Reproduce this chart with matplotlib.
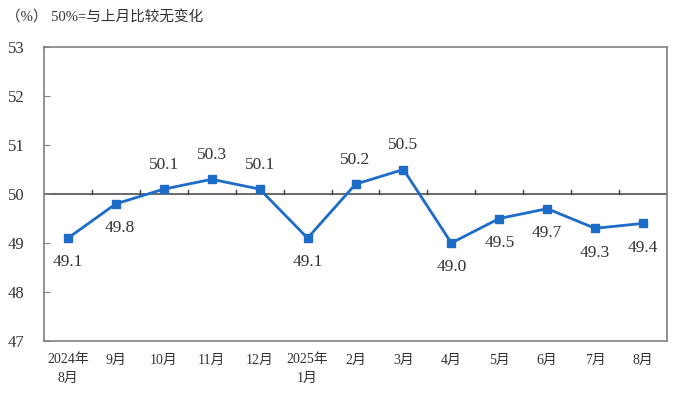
import numpy as np
import matplotlib
matplotlib.use("Agg")
import matplotlib.pyplot as plt

plt.rcParams['font.family'] = ['Liberation Serif', 'Noto Sans CJK SC', 'DejaVu Sans']

# 数据
months = ["2024年\n8月", "9月", "10月", "11月", "12月", "2025年\n1月", "2月",
          "3月", "4月", "5月", "6月", "7月", "8月"]
pmi = [49.1, 49.8, 50.1, 50.3, 50.1, 49.1, 50.2, 50.5, 49.0, 49.5, 49.7, 49.3, 49.4]
# 标签在点的上方(1)还是下方(-1)
label_side = [-1, -1, 1, 1, 1, -1, 1, 1, -1, -1, -1, -1, -1]

fig = plt.figure(figsize=(6.9, 4.01), dpi=100)
ax = fig.add_axes([44 / 690, 60 / 401, 623 / 690, 294 / 401])

x = np.arange(len(pmi))
ax.set_xlim(-0.5, len(pmi) - 0.5)
ax.set_ylim(47, 53)

# 50% 分界线 + 分隔刻度
ax.axhline(50, color="#404040", lw=1.1, zorder=1)
for b in np.arange(0.5, len(pmi) - 1, 1.0):
    ax.plot([b, b], [50, 50.08], color="#404040", lw=1.0, zorder=1)

ax.plot(x, pmi, color="#1c6cc8", lw=2.0, marker="s", markersize=6, zorder=3)

for xi, v, s in zip(x, pmi, label_side):
    dx = 0.08 if xi == 1 else 0
    ax.annotate(f"{v:.1f}", (xi + dx, v), xytext=(0, 17.5 * s), textcoords="offset points",
                ha="center", va="center", fontsize=12.5, color="#333333")

ax.set_yticks(range(47, 54))
ax.tick_params(axis="y", direction="in", length=4, labelsize=12, pad=14, color="#808080",
               labelcolor="#333333")
ax.set_xticks(x)
ax.set_xticklabels(months, fontsize=10, color="#333333", linespacing=1.5, va="top")
ax.tick_params(axis="x", length=0, pad=9)

for sp in ax.spines.values():
    sp.set_color("#808080")
    sp.set_linewidth(1.2)

fig.text(6 / 690, 1 - 18 / 401, "（%） 50%=与上月比较无变化", fontsize=10.5,
         color="#333333", va="center", ha="left")

fig.savefig("out.png", dpi=100)
